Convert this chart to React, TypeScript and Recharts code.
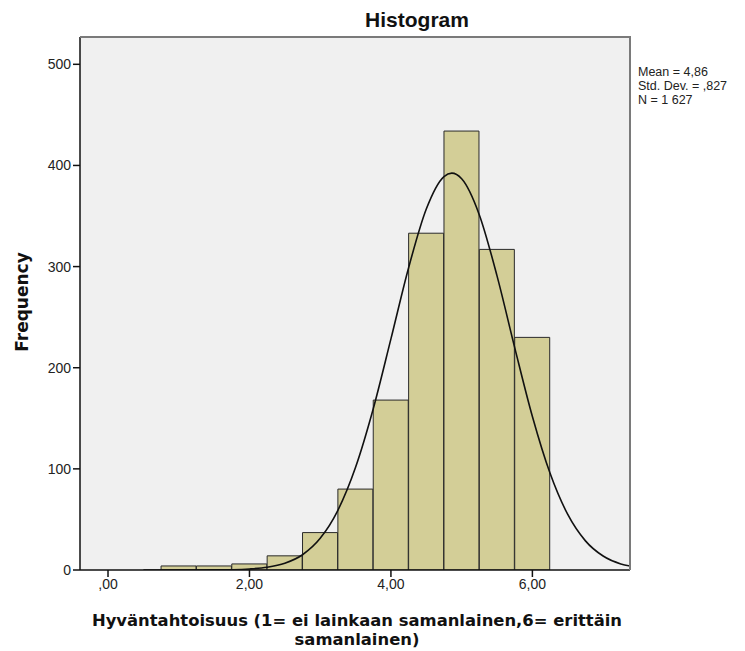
import { ComposedChart, LineChart, Bar, Line, XAxis, YAxis, CartesianGrid } from 'recharts'

// histogram bins (centre of each 0.5-wide bin) and their frequencies
const BIN_CENTERS = [1.0, 1.5, 2.0, 2.5, 3.0, 3.5, 4.0, 4.5, 5.0, 5.5, 6.0]
const COUNTS = [4, 4, 6, 14, 37, 80, 168, 333, 434, 317, 230]

// normal curve
const CURVE_X = [0.5, 1.0, 1.5, 1.75, 2.0, 2.25, 2.5, 2.75, 3.0, 3.25, 3.5, 3.75, 4.0, 4.25, 4.5, 4.75, 4.86, 5.0, 5.25, 5.5, 5.75, 6.0, 6.25, 6.5, 6.75, 7.0, 7.25, 7.38]
const CURVE_Y = [0, 0, 0.1, 0.3, 1.0, 2.7, 6.7, 15.1, 31.3, 59.0, 101.5, 159.4, 228.5, 298.9, 356.9, 389.0, 392.4, 386.8, 351.1, 290.8, 219.9, 151.8, 95.6, 54.9, 28.8, 13.8, 6.0, 3.9]

const X_TICKS = [0, 2, 4, 6]
const Y_TICKS = [0, 100, 200, 300, 400, 500]
const STATS = ['Mean = 4,86', 'Std. Dev. = ,827', 'N = 1 627']

const X_DOMAIN: [number, number] = [-0.396, 7.38]
const Y_DOMAIN: [number, number] = [0, 527]

const bars = BIN_CENTERS.map((x, i) => ({ x, count: COUNTS[i] }))
const curve = CURVE_X.map((x, i) => ({ x, y: CURVE_Y[i] }))

const W = 745
const H = 651
const tickStyle = { fontSize: 14, fill: '#222', fontFamily: '"Liberation Sans", Arial, sans-serif' }
const fmt = (v: number) => (v === 0 ? ',00' : `${v},00`)

export default function App() {
  return (
    <div style={{ position: 'relative', width: W, height: H, margin: '-8px 0 0 -8px', background: '#fff', overflow: 'hidden' }}>
      <div style={{ position: 'absolute', left: 0, top: 0 }}>
        <ComposedChart width={W} height={H} data={bars} margin={{ top: 37, right: 115, bottom: 51, left: 40 }} barCategoryGap={0} barGap={0}>
          <CartesianGrid horizontal={false} vertical={false} fill="#F0F0F0" />
          <XAxis type="number" dataKey="x" domain={X_DOMAIN} ticks={X_TICKS} tickFormatter={fmt} allowDataOverflow
            height={30} tickSize={7} tick={tickStyle} axisLine={{ stroke: '#111', strokeWidth: 1.5 }} tickLine={{ stroke: '#111', strokeWidth: 1.5 }} />
          <YAxis type="number" domain={Y_DOMAIN} ticks={Y_TICKS} allowDataOverflow
            width={40} tickSize={7} tick={tickStyle} axisLine={{ stroke: '#111', strokeWidth: 1.5 }} tickLine={{ stroke: '#111', strokeWidth: 1.5 }} />
          <Bar dataKey="count" fill="#D3CE97" stroke="#2a2a2a" strokeWidth={1} isAnimationActive={false} />
        </ComposedChart>
      </div>
      <div style={{ position: 'absolute', left: 0, top: 0 }}>
        <LineChart width={W} height={H} data={curve} margin={{ top: 37, right: 115, bottom: 81, left: 80 }}>
          <XAxis hide type="number" dataKey="x" domain={X_DOMAIN} allowDataOverflow />
          <YAxis hide type="number" domain={Y_DOMAIN} allowDataOverflow />
          <Line type="monotone" dataKey="y" stroke="#111" strokeWidth={1.6} dot={false} isAnimationActive={false} />
        </LineChart>
      </div>
      {/* plot frame, top and right */}
      <div style={{ position: 'absolute', left: 80, top: 36, width: 551, height: 534, borderTop: '2px solid #7a7a7a', borderRight: '2px solid #7a7a7a', boxSizing: 'border-box', pointerEvents: 'none' }} />
      <div style={{ position: 'absolute', left: 317, top: 8, width: 200, textAlign: 'center', fontFamily: '"Liberation Sans", Arial, sans-serif', fontWeight: 'bold', fontSize: 21, lineHeight: '24px', color: '#111' }}>
        Histogram
      </div>
      <div style={{ position: 'absolute', left: 638, top: 65, fontFamily: '"Liberation Sans", Arial, sans-serif', fontSize: 12.5, lineHeight: '14px', color: '#222', whiteSpace: 'nowrap' }}>
        {STATS.map((s) => <div key={s}>{s}</div>)}
      </div>
      <div style={{ position: 'absolute', left: 22, top: 302, transform: 'translate(-50%, -50%) rotate(-90deg)', fontFamily: '"DejaVu Sans", sans-serif', fontWeight: 'bold', fontSize: 17, color: '#111', whiteSpace: 'nowrap' }}>
        Frequency
      </div>
      <div style={{ position: 'absolute', left: 57, top: 611, width: 600, textAlign: 'center', fontFamily: '"DejaVu Sans", sans-serif', fontWeight: 'bold', fontSize: 16.4, lineHeight: '19px', color: '#111' }}>
        Hyväntahtoisuus (1= ei lainkaan samanlainen,6= erittäin<br />samanlainen)
      </div>
    </div>
  )
}
